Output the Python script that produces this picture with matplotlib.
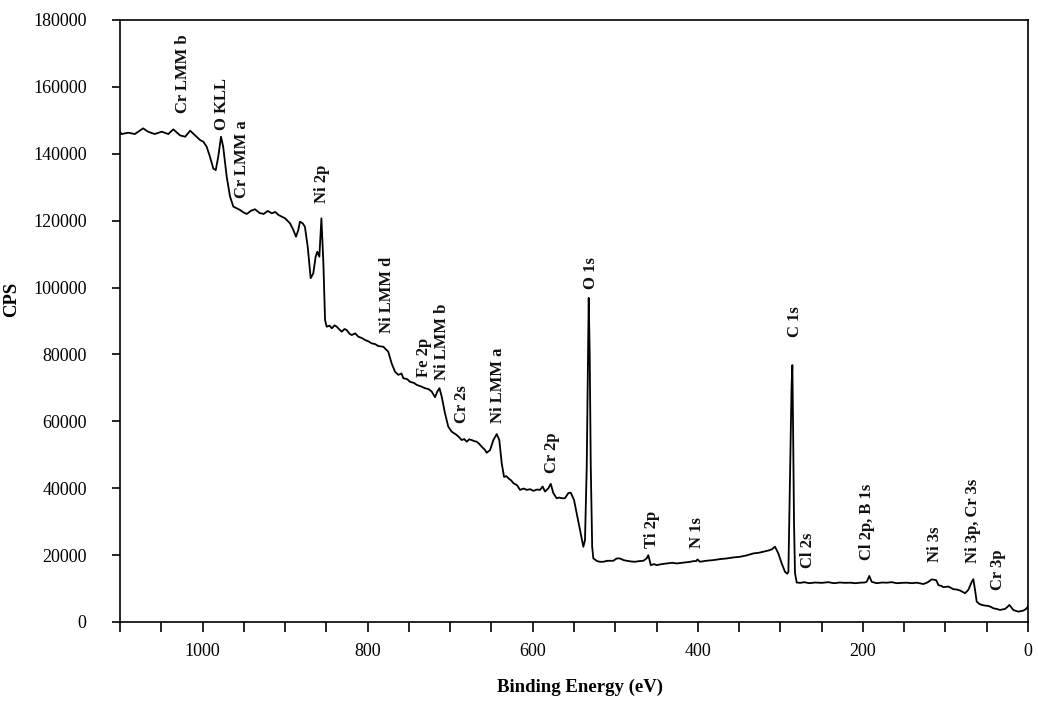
import matplotlib
matplotlib.use("Agg")
import matplotlib.pyplot as plt

# Binding energy (eV), high -> low
energy = [1100, 1098, 1090, 1082, 1072, 1066, 1058, 1049.5, 1041.5, 1035.4,
          1027.3, 1021, 1015, 1009, 1003, 999, 995, 991, 987, 984,
          981, 977.6, 975, 970.7, 966.7, 962.7, 958, 954.6, 950, 946.5,
          941, 936.4, 931, 926, 921, 916, 912, 908, 904, 900,
          894, 890, 886.8, 884, 882, 878.7, 876, 872.6, 869, 865.8,
          863, 861, 858.5, 856, 853.6, 851.6, 849.6, 846, 843.5, 840,
          837.5, 834, 831.4, 828, 825.4, 822, 819.3, 815, 811.3, 807,
          803, 799, 795, 791, 787, 781, 775, 770.9, 766.8, 762.8,
          759, 756.8, 752, 748.7, 744, 740.6, 735, 730.5, 726, 722.4,
          718.4, 715.6, 713, 710.3, 706.3, 702.3, 698.2, 695, 692.1, 689,
          686, 683, 680, 677, 674, 671, 667.9, 665, 661.8, 658,
          655.8, 651.7, 647.7, 643.6, 640.5, 637.6, 634.8, 632, 629.6, 626,
          623.5, 619, 615.4, 611, 607.3, 603, 599.3, 595, 591.2, 588,
          585.1, 581, 578.2, 575, 571, 568, 565, 561, 557, 554,
          550, 546, 542, 538.7, 536.7, 534.6, 533, 532.2, 531, 529.7,
          528, 526.6, 522, 518.5, 514.5, 510, 506.4, 502.4, 498.3, 494.3,
          490, 486.2, 481, 476.1, 471, 466, 462, 460, 457, 453,
          449.8, 444, 437.7, 431, 425.6, 419, 413.4, 409, 405.4, 402,
          400.5, 397.3, 390, 381.2, 373, 365, 357, 348.9, 341, 332.7,
          326, 320.6, 314, 310.5, 306.5, 302.5, 298.4, 294.4, 291.6, 290.3,
          288.3, 286.5, 285.5, 284.7, 283.5, 282.3, 280.2, 276, 271, 265,
          258, 250, 242, 235, 228, 221, 215.7, 209, 203.6, 198,
          195.5, 192.3, 189.4, 183.3, 177, 171.2, 165, 159.1, 153, 147,
          141, 134.8, 130, 126.8, 123, 120.7, 116.6, 111.2, 108.5, 105,
          102.5, 96.4, 90.4, 86, 82.3, 76.3, 72.3, 68.2, 66.3, 64.2,
          62.2, 59, 56.1, 52, 48.1, 45, 42, 38, 34, 30,
          27.9, 25, 22.6, 20, 17.8, 14.5, 11.7, 8, 5.7, 3,
          1.7, 0]
# Counts per second at each energy above
cps = [146500, 145900, 146300, 145900, 147600, 146600, 145900, 146600, 145900, 147300,
       145500, 145100, 146900, 145500, 144100, 143600, 142100, 139100, 135600, 135100,
       139100, 145100, 142100, 133100, 127200, 124200, 123600, 123200, 122400, 122000,
       123000, 123400, 122300, 122000, 122900, 122200, 122600, 121700, 121200, 120700,
       119200, 117200, 115200, 117200, 119700, 119200, 118200, 112200, 102800, 104300,
       109200, 110700, 109200, 120700, 107200, 90300, 88300, 88600, 87800, 88700,
       88300, 87400, 86800, 87600, 87300, 86200, 85800, 86300, 85300, 84900,
       84300, 83900, 83300, 83100, 82500, 82300, 80800, 77300, 74800, 73900,
       74300, 72900, 72600, 71800, 71500, 70900, 70400, 69900, 69600, 68900,
       67200, 68900, 69900, 67400, 62400, 58400, 56900, 56400, 55900, 55200,
       54400, 54700, 53900, 54600, 54400, 54100, 53900, 53300, 52400, 51500,
       50600, 51400, 54400, 56200, 54400, 47500, 43400, 43600, 43000, 42300,
       41500, 40900, 39500, 39900, 39500, 39700, 39200, 39600, 39500, 40500,
       39000, 40000, 41300, 38500, 37000, 37200, 37000, 37000, 38500, 38700,
       36500, 31500, 26500, 22500, 24500, 46400, 80000, 96900, 80000, 46400,
       22500, 19000, 18200, 18000, 18000, 18300, 18300, 18300, 19000, 19000,
       18500, 18300, 18100, 18000, 18200, 18300, 19000, 20000, 17000, 17300,
       17000, 17300, 17500, 17700, 17500, 17700, 17900, 18000, 18200, 18200,
       18700, 18000, 18300, 18500, 18800, 19000, 19300, 19500, 19900, 20500,
       20700, 21000, 21400, 21700, 22500, 20500, 17500, 15000, 14400, 15000,
       44500, 70000, 76800, 60000, 30000, 14600, 11800, 11700, 11900, 11600,
       11800, 11700, 11900, 11600, 11800, 11700, 11750, 11600, 11750, 11800,
       12000, 13750, 12000, 11600, 11800, 11750, 11900, 11600, 11700, 11750,
       11600, 11750, 11500, 11350, 11700, 12000, 12750, 12500, 11000, 10800,
       10400, 10600, 9800, 9700, 9400, 8600, 9600, 12000, 12800, 9600,
       6100, 5400, 5100, 4900, 4800, 4500, 4100, 3900, 3600, 3800,
       3900, 4500, 5100, 4300, 3600, 3300, 3100, 3300, 3400, 3800,
       4100, 4600]

# Peak labels: text, energy of label, CPS at bottom of label
peak_names = ["Cr LMM b", "O KLL", "Cr LMM a", "Ni 2p", "Ni LMM d", "Fe 2p", "Ni LMM b", "Cr 2s",
              "Ni LMM a", "Cr 2p", "O 1s", "Ti 2p", "N 1s", "C 1s", "Cl 2s", "Cl 2p, B 1s", "Ni 3s",
              "Ni 3p, Cr 3s", "Cr 3p"]
peak_x = [1023.7, 976.4, 952.6, 855.6, 776.9, 731.7, 710.3, 686, 642, 576.6, 529.7, 455.8, 401,
          282.2, 266.5, 195.4, 112.6, 66.2, 36]
peak_y = [152200, 147100, 126900, 125300, 86400, 73300, 72400, 59600, 59600, 44600, 99600, 22100,
          22100, 85200, 16100, 18500, 17900, 17600, 9600]

x_ticks = [1000, 800, 600, 400, 200, 0]
y_ticks = [0, 20000, 40000, 60000, 80000, 100000, 120000, 140000, 160000, 180000]

plt.rcParams['font.family'] = ['Liberation Serif', 'DejaVu Serif']

fig = plt.figure(figsize=(10.38, 7.04), dpi=100)
ax = fig.add_axes([0.1156, 0.1165, 0.8748, 0.8551])

ax.plot(energy, cps, color='black', lw=1.3)

for name, px, py in zip(peak_names, peak_x, peak_y):
    ax.text(px, py, name, rotation=90, ha='center', va='bottom',
            fontsize=12, fontweight='bold', color='#111111')

ax.set_xlim(1100, 0)
ax.set_ylim(0, 180000)
ax.set_xticks(x_ticks)
ax.set_xticks(list(range(1100, -1, -50)), minor=True)
ax.set_yticks(y_ticks)
ax.tick_params(axis='both', which='both', direction='out', length=6, width=1.2)
ax.tick_params(axis='x', which='both', length=7)
ax.tick_params(axis='y', labelsize=13, pad=18)
ax.tick_params(axis='x', labelsize=13, pad=8)
ax.set_xticklabels([str(v) for v in x_ticks])
ax.set_yticklabels([str(v) for v in y_ticks])
for sp in ax.spines.values():
    sp.set_linewidth(1.2)

ax.set_xlabel("Binding Energy (eV)", fontsize=13.5, fontweight='bold')
ax.set_ylabel("CPS", fontsize=13.5, fontweight='bold')
ax.xaxis.set_label_coords(0.507, -0.095)
ax.yaxis.set_label_coords(-0.11, 0.535)

fig.savefig("out.png", dpi=100)
